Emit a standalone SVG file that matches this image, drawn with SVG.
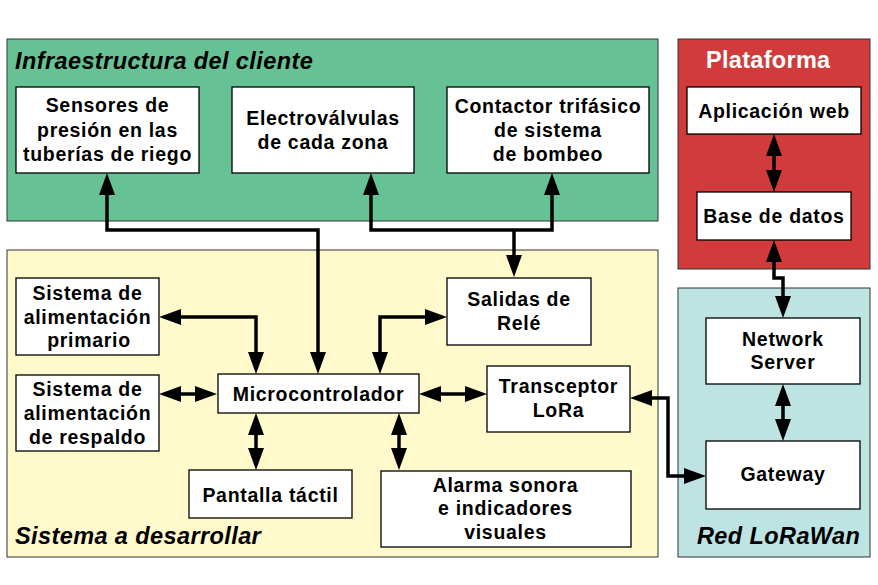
<svg xmlns="http://www.w3.org/2000/svg" width="878" height="585" viewBox="0 0 878 585">
<defs>
<style>
.panel{stroke:#333;stroke-width:1}
.box{fill:#fff;stroke:#000;stroke-width:1.3}
.t{font-family:"Liberation Sans",Arial,sans-serif;font-weight:bold;font-size:19.5px;letter-spacing:0.7px;text-anchor:middle;fill:#000}
.title{font-family:"Liberation Sans",Arial,sans-serif;font-weight:bold;font-style:italic;font-size:23.5px;letter-spacing:0.4px;fill:#000}
.ptitle{font-family:"Liberation Sans",Arial,sans-serif;font-weight:bold;font-size:23.5px;letter-spacing:0.3px;fill:#fff}
.c{fill:none;stroke:#000;stroke-width:3.5;marker-start:url(#a);marker-end:url(#a)}
.c1{fill:none;stroke:#000;stroke-width:3.5;marker-end:url(#a)}
</style>
<marker id="a" viewBox="0 0 22 16" markerWidth="22" markerHeight="16" refX="1" refY="8" orient="auto-start-reverse" markerUnits="userSpaceOnUse"><path d="M0,0 L22,8 L0,16 z" fill="#000"/></marker>
</defs>
<rect width="878" height="585" fill="#fff"/>
<g id="panels">
<rect class="panel" x="7" y="39" width="651" height="182" fill="#66c295"/>
<rect class="panel" x="7" y="250" width="651" height="307" fill="#fff9cc"/>
<rect class="panel" x="678" y="39" width="192" height="230" fill="#d13b3b"/>
<rect class="panel" x="678" y="288" width="192" height="269" fill="#bde3e3"/>
<text class="title" x="15" y="69">Infraestructura del cliente</text>
<text class="title" x="15" y="544">Sistema a desarrollar</text>
<text class="title" x="697" y="544">Red LoRaWan</text>
<text class="ptitle" x="706" y="68">Plataforma</text>
</g>
<g id="connectors">
<path class="c" d="M107,194 V230 H318 V353"/>
<path class="c" d="M371,194 V230 H552 V194"/>
<path class="c1" d="M514,230 V256"/>
<path class="c" d="M180,317 H256 V353"/>
<path class="c" d="M180,394 H196"/>
<path class="c" d="M426,317 H380 V353"/>
<path class="c" d="M440,394 H466"/>
<path class="c" d="M256,434 V449"/>
<path class="c" d="M399,434 V449"/>
<path class="c" d="M651,398 H668 V476 H685"/>
<path class="c" d="M774,155 V171"/>
<path class="c" d="M774,261 V278 H783 V297"/>
<path class="c" d="M783,405 V420"/>
</g>
<g id="sensores"><rect class="box" x="16" y="87" width="183" height="86"/><text class="t" x="107.5" y="112">Sensores de</text><text class="t" x="107.5" y="136.5">presión en las</text><text class="t" x="107.5" y="161">tuberías de riego</text></g>
<g id="electrovalvulas"><rect class="box" x="232" y="87" width="182" height="86"/><text class="t" x="323" y="125">Electroválvulas</text><text class="t" x="323" y="149">de cada zona</text></g>
<g id="contactor"><rect class="box" x="447" y="87" width="202" height="86"/><text class="t" x="548" y="113">Contactor trifásico</text><text class="t" x="548" y="137">de sistema</text><text class="t" x="548" y="161">de bombeo</text></g>
<g id="aplicacion"><rect class="box" x="687" y="87" width="174" height="47"/><text class="t" x="774" y="118">Aplicación web</text></g>
<g id="basedatos"><rect class="box" x="697" y="192" width="154" height="48"/><text class="t" x="774" y="223">Base de datos</text></g>
<g id="network"><rect class="box" x="706" y="318" width="154" height="66"/><text class="t" x="783" y="346">Network</text><text class="t" x="783" y="369">Server</text></g>
<g id="gateway"><rect class="box" x="706" y="441" width="154" height="68"/><text class="t" x="783" y="481">Gateway</text></g>
<g id="primario"><rect class="box" x="16" y="278" width="143" height="77"/><text class="t" x="87.5" y="300">Sistema de</text><text class="t" x="87.5" y="323.5">alimentación</text><text class="t" x="89" y="347">primario</text></g>
<g id="respaldo"><rect class="box" x="16" y="375" width="143" height="76"/><text class="t" x="87.5" y="396">Sistema de</text><text class="t" x="87.5" y="420">alimentación</text><text class="t" x="87.5" y="444">de respaldo</text></g>
<g id="micro"><rect class="box" x="218" y="374" width="201" height="39"/><text class="t" x="318.5" y="401">Microcontrolador</text></g>
<g id="salidas"><rect class="box" x="447" y="278" width="144" height="67"/><text class="t" x="519" y="306">Salidas de</text><text class="t" x="519" y="330">Relé</text></g>
<g id="transceptor"><rect class="box" x="487" y="366" width="143" height="66"/><text class="t" x="558.5" y="393">Transceptor</text><text class="t" x="558.5" y="417">LoRa</text></g>
<g id="pantalla"><rect class="box" x="189" y="470" width="163" height="48"/><text class="t" x="270.5" y="502">Pantalla táctil</text></g>
<g id="alarma"><rect class="box" x="381" y="471" width="250" height="76"/><text class="t" x="505.5" y="492">Alarma sonora</text><text class="t" x="505.5" y="515">e indicadores</text><text class="t" x="505.5" y="539">visuales</text></g>
</svg>
